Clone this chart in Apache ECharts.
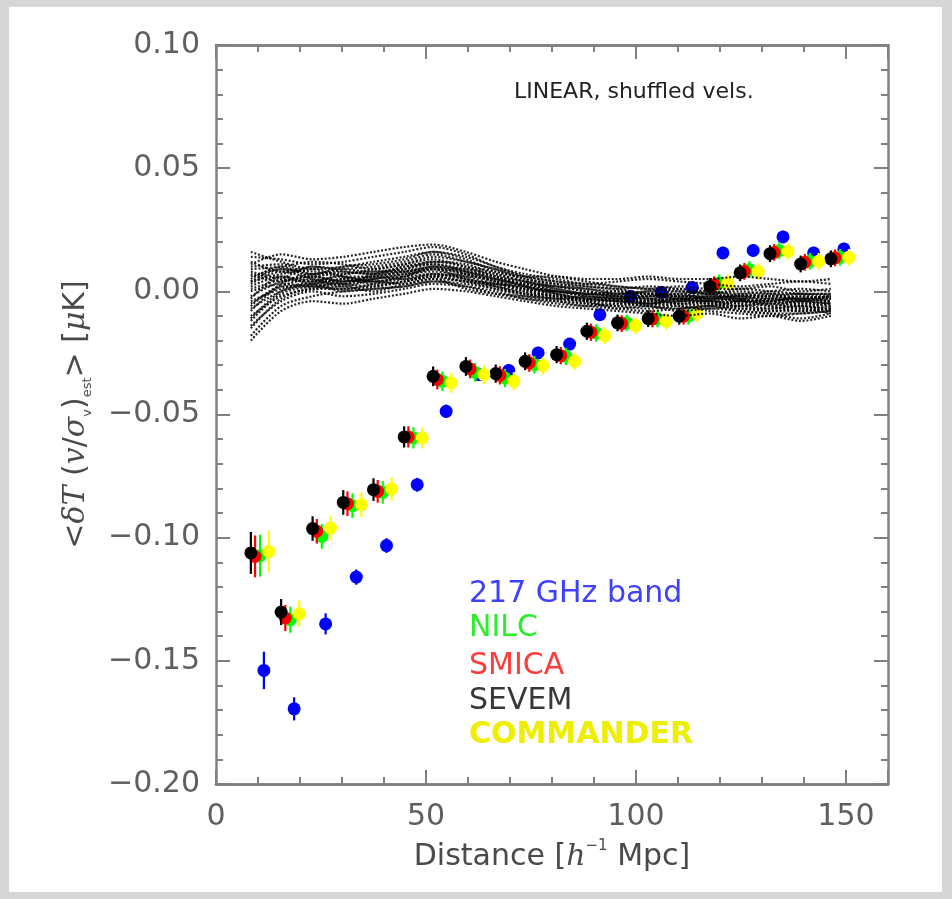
<!DOCTYPE html>
<html>
<head>
<meta charset="utf-8">
<script src="https://cdn.jsdelivr.net/npm/echarts@6/dist/echarts.min.js"></script>
<style>
  html, body { margin: 0; padding: 0; background: #d6d6d6; }
  #chart { width: 952px; height: 899px; }
</style>
</head>
<body>
<div id="chart"></div>
<script>
// Distance bins [h^-1 Mpc] (SEVEM positions; other maps are drawn slightly shifted)
const binDistance = [8.3, 15.5, 23.0, 30.3, 37.5, 44.8, 51.7, 59.5, 66.6, 73.6,
                     81.1, 88.3, 95.6, 102.9, 110.3, 117.6, 124.8, 131.9, 139.2, 146.4];

// Horizontal shift of each map's points within a bin
const mapShift = { ghz217: 3.1, nilc: 2.2, smica: 1.0, sevem: 0.0, commander: 4.3 };

// <dT (v/sigma_v)> [muK]
const ghz217 = [-0.1539, -0.1695, -0.1350, -0.1160, -0.1032, -0.0785, -0.0487, -0.0338, -0.0321, -0.0250,
                -0.0214, -0.0095, -0.0020, -0.0004, 0.0016, 0.0156, 0.0166, 0.0221, 0.0156, 0.0172];
const nilc = [-0.1073, -0.1333, -0.0995, -0.0870, -0.0816, -0.0595, -0.0365, -0.0329, -0.0352, -0.0298,
              -0.0264, -0.0169, -0.0128, -0.0112, -0.0101, 0.0034, 0.0088, 0.0165, 0.0122, 0.0138];
const smica = [-0.1076, -0.1326, -0.0974, -0.0862, -0.0812, -0.0591, -0.0358, -0.0315, -0.0341, -0.0291,
               -0.0261, -0.0166, -0.0131, -0.0112, -0.0101, 0.0027, 0.0081, 0.0158, 0.0118, 0.0136];
const sevem = [-0.1062, -0.1302, -0.0963, -0.0857, -0.0805, -0.0591, -0.0345, -0.0305, -0.0334, -0.0284,
               -0.0257, -0.0162, -0.0128, -0.0111, -0.0101, 0.0020, 0.0075, 0.0153, 0.0111, 0.0132];
const commander = [-0.1056, -0.1309, -0.0961, -0.0866, -0.0802, -0.0595, -0.0372, -0.0338, -0.0365, -0.0302,
                   -0.0284, -0.0180, -0.0139, -0.0122, -0.0090, 0.0034, 0.0081, 0.0162, 0.0122, 0.0138];

// 1-sigma errors
const ghz217Err = [0.0076, 0.0047, 0.0043, 0.0031, 0.0030, 0.0028, 0.0027, 0.0026, 0.0026, 0.0025,
                   0.0025, 0.0025, 0.0025, 0.0025, 0.0025, 0.0025, 0.0025, 0.0025, 0.0025, 0.0025];
const cleanMapErr = [0.0085, 0.0053, 0.0050, 0.0050, 0.0046, 0.0043, 0.0040, 0.0038, 0.0037, 0.0036,
                     0.0035, 0.0035, 0.0034, 0.0034, 0.0034, 0.0034, 0.0034, 0.0034, 0.0034, 0.0034];

// Null runs with shuffled velocities (one row per run, one value per bin)
const shuffledRuns = [
  [0.014, 0.013, 0.011, 0.012, 0.014, 0.016, 0.018, 0.015, 0.010, 0.007, 0.005, 0.003, 0.004, 0.005, 0.004, 0.003, 0.002, 0.003, 0.004, 0.003],
  [-0.018, -0.006, -0.002, 0.000, 0.001, 0.002, 0.004, 0.003, 0.001, -0.002, -0.004, -0.005, -0.006, -0.007, -0.006, -0.008, -0.009, -0.010, -0.009, -0.008],
  [0.006, 0.009, 0.008, 0.007, 0.009, 0.011, 0.013, 0.010, 0.008, 0.005, 0.003, 0.001, 0.000, -0.001, 0.000, -0.001, -0.002, -0.001, -0.003, -0.002],
  [-0.005, 0.002, 0.005, 0.003, 0.002, 0.004, 0.006, 0.007, 0.004, 0.001, -0.001, -0.003, -0.002, -0.004, -0.003, -0.005, -0.004, -0.006, -0.005, -0.006],
  [0.002, 0.006, 0.003, 0.005, 0.006, 0.008, 0.009, 0.008, 0.006, 0.003, 0.002, 0.000, -0.001, 0.000, -0.002, -0.001, -0.003, -0.002, -0.004, -0.005],
  [-0.010, -0.002, 0.001, 0.002, 0.000, 0.003, 0.005, 0.004, 0.002, 0.000, -0.002, -0.003, -0.004, -0.003, -0.005, -0.004, -0.005, -0.007, -0.006, -0.007],
  [0.010, 0.011, 0.007, 0.009, 0.010, 0.012, 0.015, 0.012, 0.009, 0.006, 0.004, 0.002, 0.001, 0.002, 0.001, 0.000, -0.001, 0.000, 0.001, 0.000],
  [-0.002, 0.004, 0.006, 0.004, 0.005, 0.007, 0.008, 0.006, 0.003, 0.002, 0.000, -0.002, -0.003, -0.002, -0.001, -0.003, -0.002, -0.004, -0.003, -0.004],
  [0.004, 0.007, 0.009, 0.006, 0.004, 0.006, 0.010, 0.009, 0.007, 0.004, 0.001, -0.001, -0.002, -0.003, -0.004, -0.002, -0.003, -0.005, -0.004, -0.002],
  [-0.014, -0.004, 0.000, -0.002, -0.001, 0.001, 0.003, 0.002, 0.000, -0.003, -0.004, -0.006, -0.005, -0.006, -0.007, -0.006, -0.007, -0.008, -0.007, -0.009],
  [0.008, 0.005, 0.004, 0.007, 0.008, 0.009, 0.011, 0.008, 0.005, 0.003, 0.001, -0.001, 0.000, -0.001, -0.002, -0.003, -0.001, -0.002, -0.002, -0.003],
  [0.000, 0.003, 0.002, 0.001, 0.003, 0.005, 0.007, 0.005, 0.002, -0.001, -0.003, -0.002, -0.003, -0.005, -0.004, -0.004, -0.006, -0.005, -0.007, -0.006],
  [0.012, 0.008, 0.010, 0.008, 0.007, 0.010, 0.012, 0.011, 0.007, 0.004, 0.002, 0.001, -0.001, 0.000, 0.001, -0.001, 0.000, -0.001, -0.001, -0.001],
  [-0.007, 0.000, 0.003, 0.005, 0.003, 0.004, 0.007, 0.006, 0.005, 0.002, -0.001, -0.004, -0.005, -0.004, -0.003, -0.004, -0.005, -0.003, -0.005, -0.004],
  [0.003, 0.008, 0.005, 0.002, 0.005, 0.007, 0.009, 0.007, 0.004, 0.001, 0.000, -0.001, -0.001, -0.002, -0.002, -0.002, -0.004, -0.004, -0.002, -0.003],
  [-0.004, 0.001, 0.004, 0.006, 0.006, 0.005, 0.006, 0.004, 0.003, 0.000, -0.002, -0.003, -0.004, -0.004, -0.005, -0.006, -0.004, -0.006, -0.008, -0.007],
  [0.016, 0.012, 0.009, 0.010, 0.012, 0.014, 0.016, 0.013, 0.008, 0.006, 0.006, 0.005, 0.005, 0.006, 0.005, 0.005, 0.006, 0.005, 0.004, 0.005],
  [-0.012, -0.001, 0.002, 0.003, 0.004, 0.003, 0.005, 0.001, -0.001, -0.002, -0.003, -0.004, -0.007, -0.006, -0.008, -0.007, -0.008, -0.009, -0.011, -0.009],
  [-0.020, -0.008, -0.004, -0.005, -0.003, -0.001, 0.001, 0.000, -0.002, -0.004, -0.006, -0.007, -0.008, -0.009, -0.010, -0.009, -0.011, -0.010, -0.012, -0.010],
  [0.011, 0.015, 0.013, 0.014, 0.016, 0.018, 0.019, 0.016, 0.012, 0.009, 0.006, 0.004, 0.002, 0.001, 0.000, -0.001, 0.001, 0.000, -0.001, -0.002],
  [0.005, 0.010, 0.006, 0.008, 0.007, 0.009, 0.012, 0.010, 0.006, 0.004, 0.002, 0.000, -0.002, -0.001, -0.003, -0.002, -0.002, -0.003, -0.004, -0.003],
  [-0.008, 0.003, 0.007, 0.006, 0.004, 0.006, 0.009, 0.005, 0.003, 0.001, -0.002, -0.004, -0.003, -0.005, -0.004, -0.005, -0.006, -0.004, -0.006, -0.005],
  [0.001, 0.005, 0.010, 0.009, 0.008, 0.008, 0.010, 0.008, 0.005, 0.002, 0.000, -0.002, -0.003, -0.002, -0.003, -0.003, -0.004, -0.003, -0.003, -0.004],
  [-0.003, 0.006, 0.004, 0.003, 0.007, 0.010, 0.011, 0.009, 0.006, 0.002, -0.001, -0.003, -0.004, -0.005, -0.003, -0.004, -0.003, -0.005, -0.004, -0.005],
  [0.009, 0.010, 0.012, 0.011, 0.009, 0.011, 0.014, 0.012, 0.009, 0.005, 0.003, 0.002, 0.001, -0.001, -0.001, 0.000, -0.002, -0.002, -0.001, -0.001],
  [-0.015, -0.003, 0.001, 0.001, 0.002, 0.004, 0.006, 0.004, 0.001, -0.001, -0.003, -0.005, -0.006, -0.005, -0.006, -0.007, -0.006, -0.008, -0.008, -0.007],
  [0.007, 0.004, 0.006, 0.004, 0.006, 0.008, 0.010, 0.007, 0.004, 0.003, 0.000, -0.001, -0.002, -0.003, -0.002, -0.003, -0.003, -0.002, -0.003, -0.002],
  [-0.006, 0.002, 0.002, 0.004, 0.005, 0.006, 0.007, 0.005, 0.002, -0.001, -0.002, -0.004, -0.004, -0.006, -0.005, -0.005, -0.007, -0.007, -0.006, -0.008],
  [0.004, 0.009, 0.007, 0.010, 0.011, 0.013, 0.016, 0.014, 0.010, 0.006, 0.004, 0.003, 0.002, 0.001, 0.002, 0.001, 0.001, 0.002, 0.000, 0.001],
  [-0.011, 0.000, 0.003, 0.000, 0.001, 0.002, 0.004, 0.002, -0.001, -0.003, -0.005, -0.006, -0.007, -0.008, -0.007, -0.006, -0.008, -0.009, -0.009, -0.008]
];

// Map labels and colours, in legend order
const legendLabels = ['217 GHz band', 'NILC', 'SMICA', 'SEVEM', 'COMMANDER'];
const legendColors = ['#4040ff', '#2aee2a', '#ff3c3c', '#383838', '#eeee00'];

const panelNote = 'LINEAR, shuffled vels.';

const FONT = 'DejaVu Sans';
const AXIS_GREY = '#808080';
const LABEL_GREY = '#5e5e5e';

function withErrors(values, errs, shift) {
  return values.map((v, i) => [binDistance[i] + shift, v, errs[i]]);
}

// Filled circle with a vertical error bar
function errorPointSeries(name, color, data) {
  return {
    name: name,
    type: 'custom',
    xAxisIndex: 0,
    yAxisIndex: 0,
    data: data,
    clip: false,
    renderItem: function (params, api) {
      const x = api.value(0), y = api.value(1), e = api.value(2);
      const c = api.coord([x, y]);
      const hi = api.coord([x, y + e]);
      const lo = api.coord([x, y - e]);
      return {
        type: 'group',
        children: [
          { type: 'line', shape: { x1: c[0], y1: hi[1], x2: c[0], y2: lo[1] },
            style: { stroke: color, lineWidth: 2.2 } },
          { type: 'circle', shape: { cx: c[0], cy: c[1], r: 6.5 },
            style: { fill: color } }
        ]
      };
    }
  };
}

const series = [];
// drawing order: 217 GHz, NILC, SMICA, SEVEM, COMMANDER
series.push(errorPointSeries('217 GHz band', '#0000ff', withErrors(ghz217, ghz217Err, mapShift.ghz217)));
series.push(errorPointSeries('NILC', '#00ff00', withErrors(nilc, cleanMapErr, mapShift.nilc)));
series.push(errorPointSeries('SMICA', '#ff0000', withErrors(smica, cleanMapErr, mapShift.smica)));
series.push(errorPointSeries('SEVEM', '#000000', withErrors(sevem, cleanMapErr, mapShift.sevem)));
series.push(errorPointSeries('COMMANDER', '#ffff00', withErrors(commander, cleanMapErr, mapShift.commander)));

shuffledRuns.forEach(function (run, k) {
  series.push({
    name: 'shuffled ' + k,
    type: 'line',
    xAxisIndex: 0,
    yAxisIndex: 0,
    data: run.map((v, i) => [binDistance[i], v]),
    symbol: 'none',
    smooth: 0.3,
    silent: true,
    z: 5,
    lineStyle: { color: '#000', width: 2.2, type: [2, 1.8], opacity: 0.85 }
  });
});

const tickLine = { color: AXIS_GREY, width: 2 };
const axisLine = { show: true, onZero: false, lineStyle: { color: AXIS_GREY, width: 2.5 } };

function xAxisDef(position, step, tickLen, withLabels) {
  const ax = {
    type: 'value', gridIndex: 0, position: position,
    min: 0, max: 160, interval: step,
    axisLine: axisLine,
    axisTick: { show: true, inside: true, length: tickLen, lineStyle: tickLine },
    splitLine: { show: false },
    axisLabel: { show: false }
  };
  if (withLabels) {
    ax.axisLabel = {
      show: true, margin: 18, fontSize: 30, fontFamily: FONT, color: LABEL_GREY,
      showMaxLabel: false,
      formatter: v => (Math.round(v) % 50 === 0 ? String(Math.round(v)) : '')
    };
    ax.name = '{t|Distance [}{m|h}{sp|−1}{t| Mpc]}';
    ax.nameLocation = 'middle';
    ax.nameGap = 55;
    ax.nameTextStyle = {
      rich: {
        t: { fontSize: 30, fontFamily: FONT, color: '#4a4a4a', lineHeight: 36 },
        m: { fontSize: 30, fontFamily: 'DejaVu Serif', fontStyle: 'italic', color: '#4a4a4a', lineHeight: 36 },
        sp: { fontSize: 15, fontFamily: FONT, color: '#4a4a4a', verticalAlign: 'top', lineHeight: 24 }
      }
    };
  }
  return ax;
}

function yAxisDef(position, withLabels) {
  const ax = {
    type: 'value', gridIndex: 0, position: position,
    min: -0.2, max: 0.1, interval: 0.05,
    axisLine: axisLine,
    axisTick: { show: true, inside: true, length: 14, lineStyle: tickLine },
    minorTick: { show: true, splitNumber: 5, length: 7, lineStyle: tickLine },
    splitLine: { show: false },
    minorSplitLine: { show: false },
    axisLabel: { show: false }
  };
  if (withLabels) {
    ax.axisLabel = {
      show: true, margin: 16, fontSize: 30, fontFamily: FONT, color: LABEL_GREY,
      formatter: function (v) {
        if (Math.abs(v) < 1e-9) return '0.00';
        return (v < 0 ? '−' : '') + Math.abs(v).toFixed(2);
      }
    };
    ax.name = '{t|<}{m|δT}{t| (}{m|v}{t|/}{m|σ}{sb|v}{t|)}{sb|est}{t|> [}{m|μ}{t|K]}';
    ax.nameLocation = 'middle';
    ax.nameGap = 122;
    ax.nameTextStyle = {
      rich: {
        t: { fontSize: 30, fontFamily: FONT, color: '#4a4a4a', lineHeight: 36 },
        m: { fontSize: 30, fontFamily: 'DejaVu Serif', fontStyle: 'italic', color: '#4a4a4a', lineHeight: 36 },
        sb: { fontSize: 13, fontFamily: FONT, color: '#4a4a4a', verticalAlign: 'bottom', lineHeight: 16 }
      }
    };
  }
  return ax;
}

const legendCentres = [592, 626, 664, 699, 733];
const graphic = [
  { type: 'rect', z: -100, silent: true, shape: { x: 9, y: 7, width: 933, height: 885 },
    style: { fill: '#ffffff' } }
].concat(legendLabels.map(function (label, i) {
  return {
    type: 'text', z: 100, x: 469, y: legendCentres[i] + 2, silent: true,
    style: {
      text: label, fill: legendColors[i], verticalAlign: 'middle', align: 'left',
      font: (label === 'COMMANDER' ? 'bold ' : '') + '30px "DejaVu Sans"'
    }
  };
}));

const chart = echarts.init(document.getElementById('chart'), null, { renderer: 'canvas' });
chart.setOption({
  backgroundColor: '#d6d6d6',
  animation: false,
  title: {
    text: panelNote, left: 509, top: 76,
    textStyle: { fontSize: 22, fontFamily: FONT, fontWeight: 'normal', color: '#222' }
  },
  grid: { left: 216, right: 64, top: 45, bottom: 115, containLabel: false },
  xAxis: [
    xAxisDef('bottom', 10, 7, true),
    xAxisDef('bottom', 50, 14, false),
    xAxisDef('top', 10, 7, false),
    xAxisDef('top', 50, 14, false)
  ],
  yAxis: [
    yAxisDef('left', true),
    yAxisDef('right', false)
  ],
  graphic: graphic,
  series: series
});
</script>
</body>
</html>
